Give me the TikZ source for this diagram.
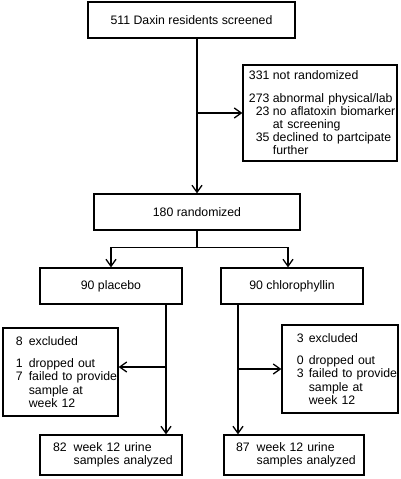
\documentclass[tikz,border=0pt]{standalone}
\usepackage{fontspec}
\setmainfont{Liberation Sans}
\usetikzlibrary{arrows.meta}
\newcommand\flrow[4]{\mbox{\makebox[#1][r]{#3}\hspace{#2}#4}}
\begin{document}
\begin{tikzpicture}[x=1pt,y=-1pt,
  box/.style={draw, line width=1.3pt, inner sep=0pt, font=\fontsize{12.3}{13.2}\selectfont},
  lbox/.style={box, align=left},
  ln/.style={line width=1.3pt},
  arr/.style={line width=1.3pt, -{Straight Barb[length=7pt,width=10pt]}}]
\useasboundingbox (0,0) rectangle (400,479);

\node[box, minimum width=207pt, minimum height=36pt] (b1) at (191.5,20) {511 Daxin residents screened};

\node[lbox, minimum width=154pt, minimum height=96pt, text width=142pt, inner xsep=6pt] (nr) at (320,113)
 {\flrow{20.5pt}{3.4pt}{331}{not randomized}\\[9pt]
  \flrow{20.5pt}{3.4pt}{273}{abnormal physical/lab}\\
  \flrow{20.5pt}{3.4pt}{23}{no aflatoxin biomarker}\\
  \flrow{20.5pt}{3.4pt}{}{at screening}\\
  \flrow{20.5pt}{3.4pt}{35}{declined to partcipate}\\
  \flrow{20.5pt}{3.4pt}{}{further}};

\node[box, minimum width=206pt, minimum height=36pt] (b2) at (197,212) {180 randomized};

\node[box, minimum width=142pt, minimum height=36pt] (pl) at (111,286) {90 placebo};
\node[box, minimum width=142pt, minimum height=36pt] (ch) at (292,286) {90 chlorophyllin};

\node[lbox, minimum width=115pt, minimum height=88pt, text width=89pt, inner xsep=13pt] (ex1) at (60.5,372)
 {\flrow{6.8pt}{6pt}{8}{excluded}\\[9pt]
  \flrow{6.8pt}{6pt}{1}{dropped out}\\
  \flrow{6.8pt}{6pt}{7}{failed to provide}\\
  \flrow{6.8pt}{6pt}{}{sample at}\\
  \flrow{6.8pt}{6pt}{}{week 12}};

\node[lbox, minimum width=116pt, minimum height=88pt, text width=86pt, inner xsep=15pt] (ex2) at (340,369)
 {\flrow{6.8pt}{5pt}{3}{excluded}\\[9pt]
  \flrow{6.8pt}{5pt}{0}{dropped out}\\
  \flrow{6.8pt}{5pt}{3}{failed to provide}\\
  \flrow{6.8pt}{5pt}{}{sample at}\\
  \flrow{6.8pt}{5pt}{}{week 12}};

\node[lbox, minimum width=142pt, minimum height=40pt, text width=116pt, inner xsep=13pt] (b82) at (111,455)
 {\flrow{13.7pt}{7pt}{82}{week 12 urine}\\
  \flrow{13.7pt}{7pt}{}{samples analyzed}};

\node[lbox, minimum width=140pt, minimum height=40pt, text width=116pt, inner xsep=12pt] (b87) at (294,455)
 {\flrow{13.7pt}{7pt}{87}{week 12 urine}\\
  \flrow{13.7pt}{7pt}{}{samples analyzed}};

% connectors
\draw[arr] (b2.north |- b1.south) -- (b2.north);
\draw[arr] (b2.north |- nr.west) -- (nr.west);
\draw[ln] (b2.south) -- ++(0,17) coordinate (fork);
\draw[arr] (fork) -| (pl.north);
\draw[arr] (fork) -| ([xshift=-4pt]ch.north);

\coordinate (pbr) at (166,367);
\draw[arr] (pbr |- pl.south) -- (pbr |- b82.north);
\draw[arr] (pbr) -- (pbr -| ex1.east);

\coordinate (cbr) at (238,369);
\draw[arr] (cbr |- ch.south) -- (cbr |- b87.north);
\draw[arr] (cbr) -- (ex2.west);
\end{tikzpicture}
\end{document}
